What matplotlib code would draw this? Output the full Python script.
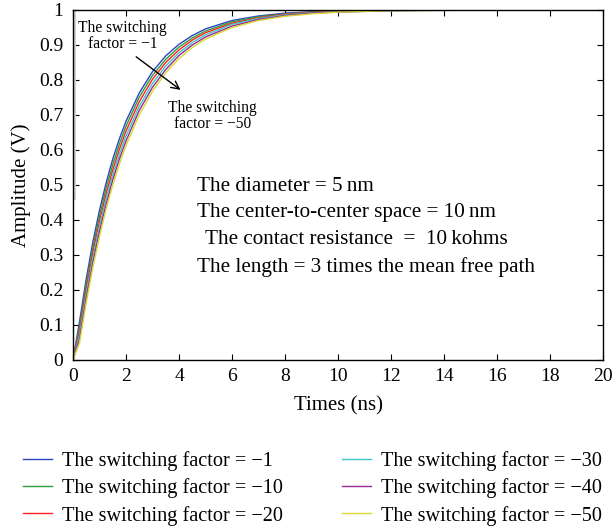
import matplotlib
matplotlib.use("Agg")
import matplotlib.pyplot as plt

# time axis (ns) and amplitude (V)
times = [0, 0.25, 0.5, 0.75, 1, 1.25, 1.5, 1.75, 2, 2.5, 3, 3.5, 4, 4.5, 5, 6, 7, 8, 9, 10, 12, 14, 20]

amp_sf1 = [0, 0.111, 0.232, 0.337, 0.428, 0.506, 0.574, 0.632, 0.682, 0.763, 0.824, 0.869, 0.902,
           0.927, 0.946, 0.970, 0.983, 0.991, 0.995, 0.997, 0.999, 1.0, 1.0]
amp_sf10 = [0, 0.098, 0.218, 0.322, 0.412, 0.491, 0.558, 0.617, 0.668, 0.751, 0.813, 0.859, 0.894,
            0.920, 0.940, 0.966, 0.981, 0.989, 0.994, 0.997, 0.999, 1.0, 1.0]
amp_sf20 = [0, 0.085, 0.204, 0.307, 0.397, 0.475, 0.543, 0.602, 0.654, 0.738, 0.802, 0.850, 0.886,
            0.914, 0.935, 0.962, 0.978, 0.988, 0.993, 0.996, 0.999, 1.0, 1.0]
amp_sf30 = [0, 0.073, 0.190, 0.292, 0.382, 0.460, 0.528, 0.588, 0.640, 0.725, 0.790, 0.840, 0.878,
            0.907, 0.929, 0.959, 0.976, 0.986, 0.992, 0.995, 0.998, 1.0, 1.0]
amp_sf40 = [0, 0.061, 0.177, 0.278, 0.367, 0.445, 0.514, 0.574, 0.626, 0.713, 0.779, 0.830, 0.870,
            0.900, 0.923, 0.954, 0.973, 0.984, 0.991, 0.994, 0.998, 0.999, 1.0]
amp_sf50 = [0, 0.050, 0.164, 0.265, 0.353, 0.431, 0.500, 0.560, 0.613, 0.700, 0.768, 0.821, 0.861,
            0.893, 0.917, 0.950, 0.970, 0.982, 0.989, 0.994, 0.998, 0.999, 1.0]

# faint initial transient near t = 0
spike_t = [0.08, 0.08]
spike_v = [0.46, 1.0]

series = [amp_sf1, amp_sf10, amp_sf20, amp_sf30, amp_sf40, amp_sf50]
labels = ["The switching factor = \u22121", "The switching factor = \u221210",
          "The switching factor = \u221220", "The switching factor = \u221230",
          "The switching factor = \u221240", "The switching factor = \u221250"]
colors = ["#2b45c4", "#2f9e36", "#ff2020", "#3cc8c8", "#962a96", "#d8d830"]

plt.rcParams['font.family'] = ['Liberation Serif', 'DejaVu Serif']

fig = plt.figure(figsize=(6.16, 5.26), dpi=100)
ax = fig.add_axes([0.1185, 0.3156, 0.8605, 0.6654])

ax.plot(spike_t, spike_v, color='#d0d0d0', linewidth=1.4)
for vals, lab, col in zip(series, labels, colors):
    ax.plot(times, vals, color=col, linewidth=1.0, label=lab)

ax.set_xlim(0, 20)
ax.set_ylim(0, 1)
ax.set_xticks(range(0, 21, 2))
ax.set_yticks([i / 10 for i in range(11)])
ax.set_yticklabels(["0"] + ["0.%d" % i for i in range(1, 10)] + ["1"])
ax.tick_params(direction='in', top=True, right=True, length=4, labelsize=14)
ax.tick_params(axis='y', pad=7)
ax.tick_params(axis='x', pad=6)
for sp in ax.spines.values():
    sp.set_linewidth(1.0)

ax.set_xlabel("Times (ns)", fontsize=15, labelpad=8)
ax.set_ylabel("Amplitude (V)", fontsize=15, labelpad=6)

# parameter block
fs = 15.2
ax.text(4.68, 0.497, "The diameter = 5\u2009nm", fontsize=fs, va='center', ha='left')
ax.text(4.68, 0.420, "The center-to-center space = 10\u2009nm", fontsize=fs, va='center', ha='left')
ax.text(4.98, 0.343, "The contact resistance  =  10\u2009kohms", fontsize=fs, va='center', ha='left')
ax.text(4.68, 0.266, "The length = 3 times the mean free path", fontsize=fs, va='center', ha='left')

# switching factor annotations
ax.text(1.87, 0.926, "The switching\nfactor = \u22121", fontsize=11.2, ha='center', va='center',
        linespacing=1.05)
ax.text(5.26, 0.697, "The switching\nfactor = \u221250", fontsize=11.2, ha='center', va='center',
        linespacing=1.05)
ax.annotate("", xy=(4.14, 0.767), xytext=(2.30, 0.871),
            arrowprops=dict(arrowstyle='->', color='black', lw=1.0, mutation_scale=14))

fig.legend(loc='upper left', bbox_to_anchor=(0.037, 0.143), ncol=2, frameon=False,
           fontsize=14.6, handlelength=1.43, handletextpad=0.5, columnspacing=2.9,
           labelspacing=0.37, borderaxespad=0, borderpad=0)

plt.savefig('out.png', dpi=100)
